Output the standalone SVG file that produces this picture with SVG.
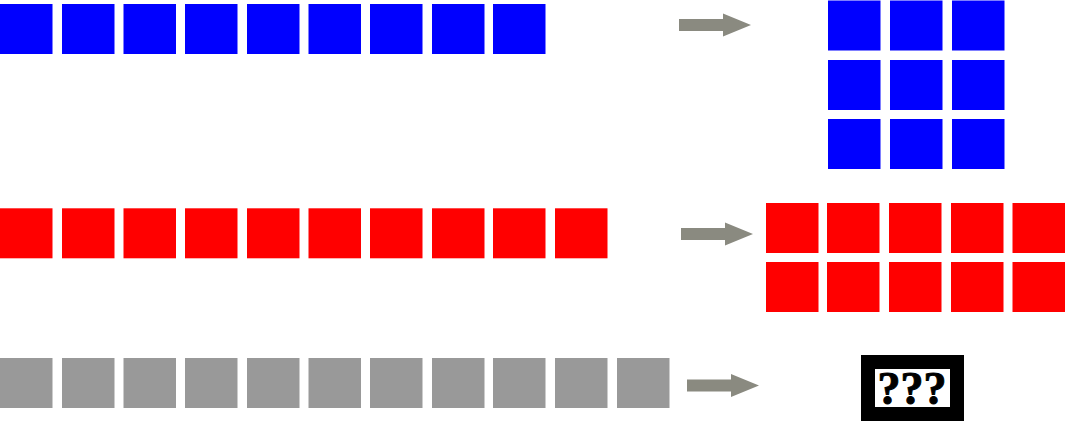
<svg xmlns="http://www.w3.org/2000/svg" width="1065" height="423" viewBox="0 0 1065 423">
<style>
.b{fill:#0000ff}.r{fill:#ff0000}.g{fill:#999999}.ar{fill:#8a8a80}
.q{font-family:"Liberation Serif","DejaVu Serif",serif;font-weight:bold;font-size:46px;fill:#000;stroke:#000;stroke-width:1}
</style>
<defs>
<rect id="sq" width="52.5" height="50"/>
<polygon id="arr" points="0,0 44,0 44,-5.5 72,6 44,17.5 44,12 0,12"/>
</defs>
<rect width="1065" height="423" fill="#fff"/>
<g id="blue-row" class="b">
<use href="#sq" x="0" y="4"/><use href="#sq" x="62" y="4"/><use href="#sq" x="123.5" y="4"/><use href="#sq" x="185" y="4"/><use href="#sq" x="247" y="4"/><use href="#sq" x="308.5" y="4"/><use href="#sq" x="370" y="4"/><use href="#sq" x="432" y="4"/><use href="#sq" x="493" y="4"/>
</g>
<g id="blue-grid" class="b">
<use href="#sq" x="828" y="0.5"/><use href="#sq" x="890" y="0.5"/><use href="#sq" x="952" y="0.5"/>
<use href="#sq" x="828" y="60"/><use href="#sq" x="890" y="60"/><use href="#sq" x="952" y="60"/>
<use href="#sq" x="828" y="119"/><use href="#sq" x="890" y="119"/><use href="#sq" x="952" y="119"/>
</g>
<g id="red-row" class="r">
<use href="#sq" x="0" y="208.3"/><use href="#sq" x="62" y="208.3"/><use href="#sq" x="123.5" y="208.3"/><use href="#sq" x="185" y="208.3"/><use href="#sq" x="247" y="208.3"/><use href="#sq" x="308.5" y="208.3"/><use href="#sq" x="370" y="208.3"/><use href="#sq" x="432" y="208.3"/><use href="#sq" x="493" y="208.3"/><use href="#sq" x="555" y="208.3"/>
</g>
<g id="red-grid" class="r">
<use href="#sq" x="766" y="203"/><use href="#sq" x="827" y="203"/><use href="#sq" x="889" y="203"/><use href="#sq" x="951" y="203"/><use href="#sq" x="1012.5" y="203"/>
<use href="#sq" x="766" y="262"/><use href="#sq" x="827" y="262"/><use href="#sq" x="889" y="262"/><use href="#sq" x="951" y="262"/><use href="#sq" x="1012.5" y="262"/>
</g>
<g id="grey-row" class="g">
<use href="#sq" x="0" y="358"/><use href="#sq" x="62" y="358"/><use href="#sq" x="123.5" y="358"/><use href="#sq" x="185" y="358"/><use href="#sq" x="247" y="358"/><use href="#sq" x="308.5" y="358"/><use href="#sq" x="370" y="358"/><use href="#sq" x="432" y="358"/><use href="#sq" x="493" y="358"/><use href="#sq" x="555" y="358"/><use href="#sq" x="617" y="358"/>
</g>
<g id="connectors" class="ar">
<use href="#arr" x="679" y="19"/>
<use href="#arr" x="681" y="228"/>
<use href="#arr" x="687" y="379.5"/>
</g>
<g id="unknown">
<rect x="861" y="355" width="103" height="66" fill="#000"/>
<rect x="875" y="369" width="75" height="38" fill="#fff"/>
<text class="q" x="877.5" y="404" textLength="69" lengthAdjust="spacingAndGlyphs">???</text>
</g>
</svg>
